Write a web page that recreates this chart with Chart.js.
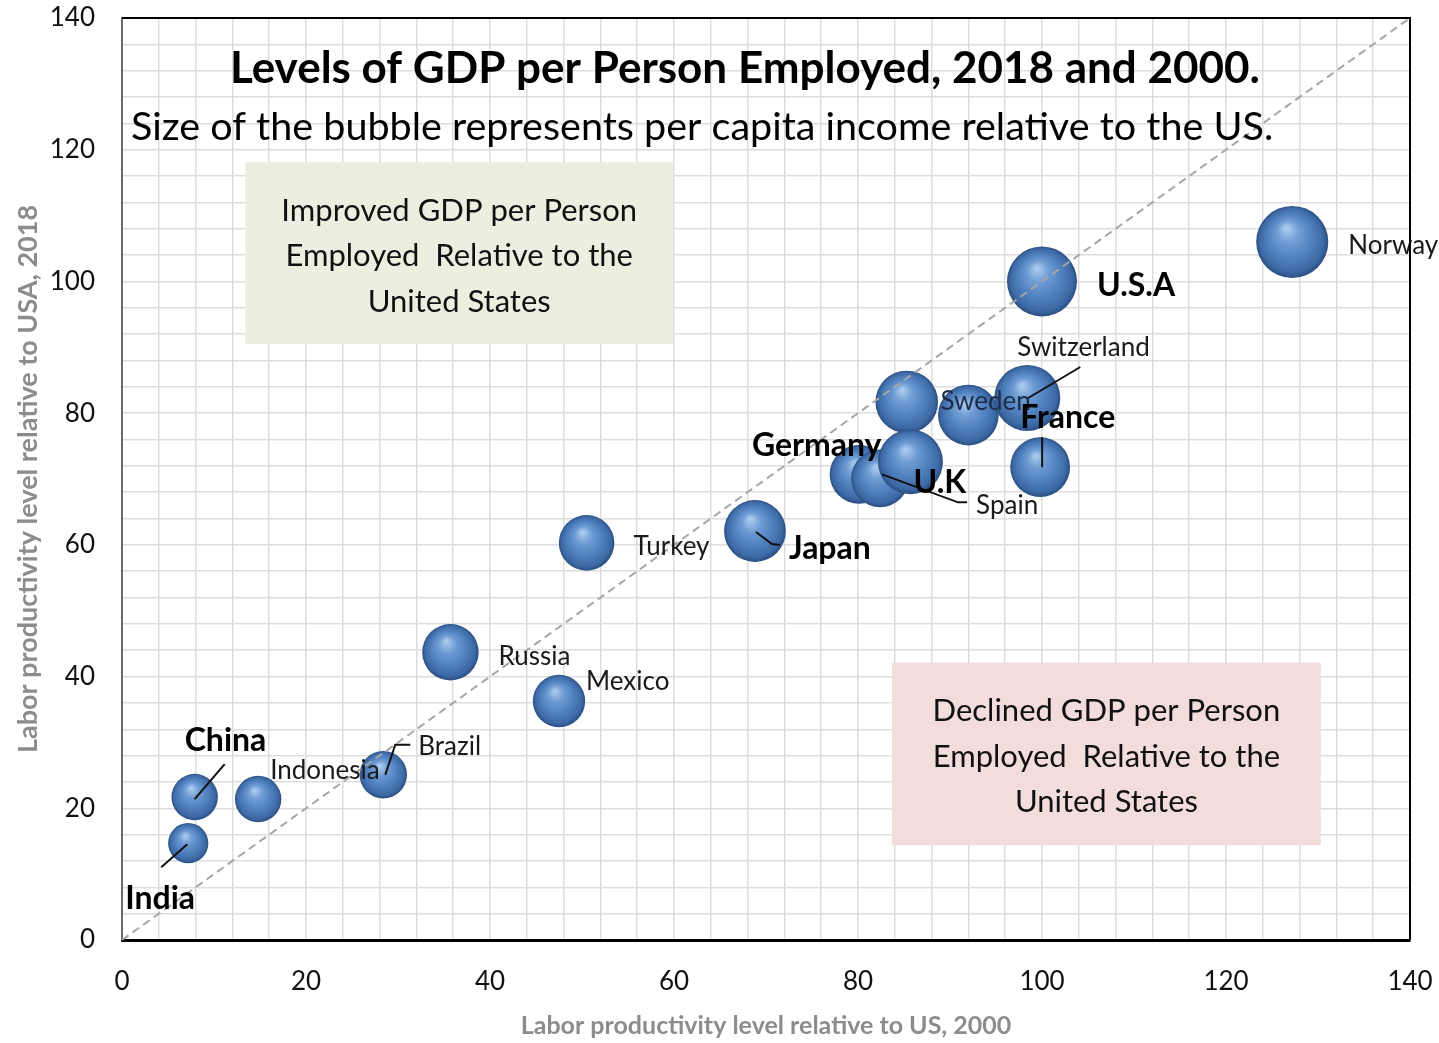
<!DOCTYPE html>
<html>
<head>
<meta charset="utf-8">
<script src="https://cdn.jsdelivr.net/npm/chart.js@4.4.1/dist/chart.umd.min.js"></script>
<style>
  html, body { margin: 0; padding: 0; background: #fff; }
  #wrap { width: 1439px; height: 1043px; }
</style>
</head>
<body>
<div id="wrap"><canvas id="gdpChart" width="1439" height="1043"></canvas></div>
<script>
// labour productivity relative to the US, 2000 vs 2018; bubble = per capita income vs US
const countries = ['Germany', 'Spain', '', 'U.K', 'Sweden', 'Switzerland', 'France', 'U.S.A', 'Norway',
                   'Japan', 'Turkey', 'Russia', 'Mexico', 'Brazil', 'Indonesia', 'China', 'India'];
const prod2000  = [80.1, 82.4, 85.3, 85.7, 92.0, 98.4, 99.8, 100, 127.2, 68.8, 50.5, 35.7, 47.5, 28.4, 14.8, 7.9, 7.2];
const prod2018  = [70.7, 70.1, 81.7, 72.6, 79.7, 82.3, 71.8, 100, 106.0, 62.1, 60.3, 43.7, 36.3, 25.1, 21.4, 21.7, 14.7];
const incomeRel = [70, 68, 80, 86, 75, 89, 73, 100, 106, 78, 63, 65, 56, 46, 44, 44, 33];
const boldNames = ['Germany', 'U.K', 'France', 'U.S.A', 'Japan', 'China', 'India'];

const axisMax = 140;
const parity = [{ x: 0, y: 0 }, { x: axisMax, y: axisMax }];

// where each label sits relative to its bubble centre, plus optional leader line
const labelPlacement = {
  'Norway':      { dx: 56,  dy: 2 },
  'U.S.A':       { dx: 55,  dy: 2 },
  'Switzerland': { dx: -10, dy: -52, leader: [[1, 0], [53, -31]] },
  'Sweden':      { dx: -28, dy: -16, color: '#1e2c45' },
  'France':      { dx: -20, dy: -51, leader: [[2, -30], [2, 0]] },
  'Germany':     { dx: -107, dy: -31 },
  'U.K':         { dx: 3,   dy: 19 },
  'Spain':       { dx: 96,  dy: 25, leader: [[2, -4], [78, 24], [87, 24]] },
  'Japan':       { dx: 34,  dy: 16, leader: [[1, 1], [17, 13], [25, 14]] },
  'Turkey':      { dx: 47,  dy: 2 },
  'Russia':      { dx: 48,  dy: 2 },
  'Mexico':      { dx: 27,  dy: -21 },
  'Brazil':      { dx: 35,  dy: -30, leader: [[2, 0], [12, -30], [27, -30]] },
  'Indonesia':   { dx: 12,  dy: -30 },
  'China':       { dx: -10, dy: -58, leader: [[0, 2], [30, -33]] },
  'India':       { dx: -63, dy: 53, leader: [[-1, 1], [-27, 24]] }
};

const notes = [
  { x0: 13.4, x1: 59.9, y0: 90.5, y1: 118.1, fill: '#ebefe0',
    lines: ['Improved GDP per Person', 'Employed  Relative to the', 'United States'] },
  { x0: 83.7, x1: 130.3, y0: 14.4, y1: 42.1, fill: '#f2dcdc',
    lines: ['Declined GDP per Person', 'Employed  Relative to the', 'United States'] }
];

const FONT = 'Lato, "Open Sans", sans-serif';

function bubbleRadius(v) {
  return 35 * Math.sqrt(v / 100);
}

// shaded sphere look for each bubble
function sphereFill(ctx) {
  const chart = ctx.chart;
  if (ctx.type !== 'data' || !chart.chartArea || !chart.scales.x) return '#4f81bd';
  const x = chart.scales.x.getPixelForValue(ctx.raw.x);
  const y = chart.scales.y.getPixelForValue(ctx.raw.y);
  const r = ctx.raw.r;
  const g = chart.ctx.createRadialGradient(x - r * 0.15, y - r * 0.38, r * 0.05, x, y, r);
  g.addColorStop(0, '#a6c8ec');
  g.addColorStop(0.28, '#6e9bd3');
  g.addColorStop(0.6, '#5081bf');
  g.addColorStop(0.88, '#3d69a4');
  g.addColorStop(1, '#2a4e82');
  return g;
}

const overlay = {
  id: 'overlay',
  beforeDatasetsDraw(chart) {
    const { ctx, scales: { x, y } } = chart;
    ctx.save();
    notes.forEach(n => {
      const left = x.getPixelForValue(n.x0), right = x.getPixelForValue(n.x1);
      const top = y.getPixelForValue(n.y1), bottom = y.getPixelForValue(n.y0);
      ctx.fillStyle = n.fill;
      ctx.fillRect(left, top, right - left, bottom - top);
      ctx.fillStyle = '#111';
      ctx.font = '31px ' + FONT;
      ctx.textAlign = 'center';
      ctx.textBaseline = 'middle';
      const cx = (left + right) / 2, cy = (top + bottom) / 2 + 3;
      n.lines.forEach((t, i) => ctx.fillText(t, cx, cy + (i - 1) * 45.5));
    });
    ctx.restore();
  },
  afterDatasetsDraw(chart) {
    const { ctx, chartArea: a, scales: { x, y } } = chart;
    ctx.save();
    // leaders and country names
    countries.forEach((name, i) => {
      const p = labelPlacement[name];
      if (!p) return;
      const cx = x.getPixelForValue(prod2000[i]);
      const cy = y.getPixelForValue(prod2018[i]);
      if (p.leader) {
        ctx.strokeStyle = '#111';
        ctx.lineWidth = 2;
        ctx.beginPath();
        p.leader.forEach(([lx, ly], k) => k ? ctx.lineTo(cx + lx, cy + ly) : ctx.moveTo(cx + lx, cy + ly));
        ctx.stroke();
      }
      const bold = boldNames.includes(name);
      ctx.font = (bold ? 'bold 32px ' : '26px ') + FONT;
      ctx.fillStyle = p.color || (bold ? '#000' : '#1a1a1a');
      ctx.textAlign = 'left';
      ctx.textBaseline = 'middle';
      ctx.fillText(name, cx + p.dx, cy + p.dy + 2);
    });
    // heading inside the plot
    ctx.fillStyle = '#000';
    ctx.textBaseline = 'middle';
    ctx.textAlign = 'center';
    ctx.font = 'bold 44px ' + FONT;
    ctx.fillText('Levels of GDP per Person Employed, 2018 and 2000.', 745, 69);
    ctx.textAlign = 'left';
    ctx.font = '39.5px ' + FONT;
    ctx.fillText('Size of the bubble represents per capita income relative to the US.', 131, 127);
    // top and right frame
    ctx.strokeStyle = '#000';
    ctx.lineWidth = 2;
    ctx.beginPath();
    ctx.moveTo(a.left, a.top);
    ctx.lineTo(a.right, a.top);
    ctx.lineTo(a.right, a.bottom);
    ctx.stroke();
    ctx.restore();
  }
};

const tickLabel = v => (v % 20 === 0 ? v : '');

new Chart(document.getElementById('gdpChart'), {
  type: 'bubble',
  data: {
    datasets: [
      {
        type: 'line',
        data: parity,
        borderColor: '#a6a6a6',
        borderWidth: 2,
        borderDash: [8, 5],
        pointRadius: 0,
        fill: false
      },
      {
        data: countries.map((c, i) => ({ x: prod2000[i], y: prod2018[i], r: bubbleRadius(incomeRel[i]) })),
        backgroundColor: sphereFill,
        borderWidth: 0
      }
    ]
  },
  options: {
    responsive: false,
    animation: false,
    events: [],
    layout: { autoPadding: false, padding: { top: 18, right: 29, left: 0, bottom: 0 } },
    plugins: { legend: { display: false }, tooltip: { enabled: false } },
    scales: {
      x: {
        type: 'linear',
        min: 0, max: axisMax,
        afterFit: s => { s.height = 103; s.paddingLeft = 0; s.paddingRight = 0; },
        ticks: { stepSize: 4, autoSkip: false, maxRotation: 0, padding: 26, callback: tickLabel,
                 color: '#111', font: { family: FONT, size: 26 } },
        grid: { color: '#dddddd', lineWidth: 1.5, drawTicks: false },
        border: { color: '#000', width: 3 },
        title: { display: true, text: 'Labor productivity level relative to US, 2000', color: '#8c8c8c',
                 font: { family: FONT, size: 25, weight: 'bold' }, padding: { bottom: 2 } }
      },
      y: {
        type: 'linear',
        min: 0, max: axisMax,
        afterFit: s => { s.width = 122; s.paddingTop = 0; s.paddingBottom = 0; },
        ticks: { stepSize: 4, autoSkip: false, padding: 27, callback: tickLabel,
                 color: '#111', font: { family: FONT, size: 26 } },
        grid: { color: '#dddddd', lineWidth: 1.5, drawTicks: false },
        border: { color: '#6b6b6b', width: 2 },
        title: { display: true, text: 'Labor productivity level relative to USA, 2018', color: '#8c8c8c',
                 font: { family: FONT, size: 27, weight: 'bold' }, padding: { top: 12 } }
      }
    }
  },
  plugins: [overlay]
});
</script>
</body>
</html>
